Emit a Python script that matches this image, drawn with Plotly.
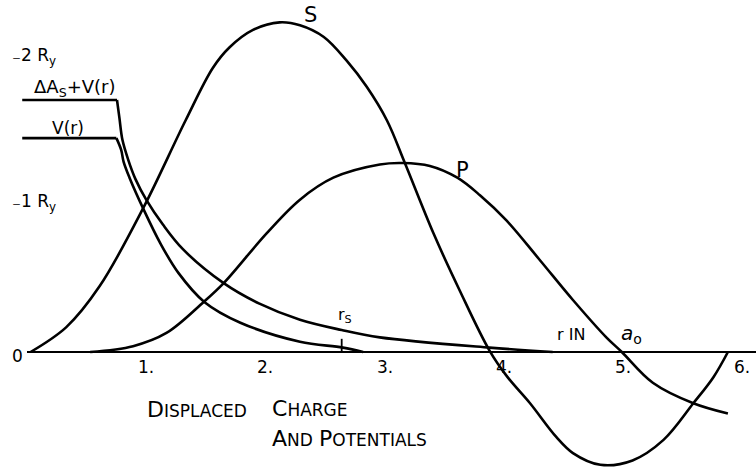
import plotly.graph_objects as go

# ---- data (r in units of a0, energies in Ry plotted upward as -E) ----
s_r = [0.03, 0.33, 0.61, 0.98, 1.33, 1.56, 1.70, 1.90, 2.12, 2.29, 2.49, 2.68,
       2.85, 3.02, 3.17, 3.41, 3.63, 3.88, 4.03, 4.22, 4.44, 4.58, 4.81, 5.08,
       5.34, 5.59, 5.76, 5.88]
s_v = [0.0, 0.17, 0.45, 0.99, 1.58, 1.94, 2.08, 2.20, 2.25, 2.23, 2.15, 1.99,
       1.81, 1.58, 1.29, 0.81, 0.42, 0.01, -0.17, -0.35, -0.58, -0.69, -0.77, -0.74,
       -0.60, -0.35, -0.17, 0.0]

p_r = [0.53, 0.89, 1.17, 1.48, 1.65, 2.01, 2.29, 2.57, 2.96, 3.15, 3.38, 3.61,
       3.80, 4.02, 4.30, 4.58, 4.86, 4.99, 5.25, 5.59, 5.88]
p_v = [0.0, 0.04, 0.13, 0.34, 0.47, 0.81, 1.04, 1.19, 1.28, 1.29, 1.27, 1.19,
       1.07, 0.90, 0.63, 0.355, 0.10, 0.0, -0.21, -0.35, -0.42]

# potential V(r): constant inside the core, then decaying
v_core_r = [-0.04, 0.75]
v_core_level = 1.46
v_r = [0.75, 0.79, 0.81, 0.86, 0.98, 1.12, 1.27, 1.49, 1.79, 2.29, 2.65, 2.82]
v_v = [1.46, 1.38, 1.30, 1.19, 0.97, 0.74, 0.54, 0.34, 0.20, 0.07, 0.03, 0.0]

# Delta A_s + V(r)
a_core_r = [-0.04, 0.755]
a_core_level = 1.72
a_r = [0.755, 0.775, 0.80, 0.85, 0.91, 1.00, 1.14, 1.31, 1.65, 1.95, 2.29, 2.64,
       2.96, 3.88, 4.41]
a_v = [1.72, 1.60, 1.45, 1.31, 1.18, 1.04, 0.87, 0.70, 0.47, 0.33, 0.22, 0.15,
       0.10, 0.03, 0.0]

axis_r = [0.0, 6.2]
r_s = 2.64
tick_vals = [1, 2, 3, 4, 5, 6]
tick_text = ["1.", "2.", "3.", "4.", "5.", "6."]
level_vals = [2, 1, 0]
level_text = ["₋2 R<sub>y</sub>", "₋1 R<sub>y</sub>", "0"]

W, H = 756, 470
X0, SX = 27.0, 119.2      # pixel of r=0 and pixels per a0
Y0, SY = 352.0, 146.5     # pixel of zero level and pixels per Ry

x_range = [-X0 / SX, (W - X0) / SX]
y_range = [-(H - Y0) / SY, Y0 / SY]

FONT = "DejaVu Sans"
INK = "black"
LW = 2.6


def paper(px, py):
    return px / W, 1 - py / H


fig = go.Figure()


def curve(x, y, shape="spline", width=LW):
    fig.add_trace(go.Scatter(x=x, y=y, mode="lines",
                             line=dict(color=INK, width=width, shape=shape,
                                       smoothing=1.0),
                             hoverinfo="skip", showlegend=False))


# baseline
curve(axis_r, [0, 0], shape="linear", width=2.0)
# charge densities
curve(s_r, s_v)
curve(p_r, p_v)
# potentials
curve(v_core_r, [v_core_level] * 2, shape="linear")
curve(v_r, v_v)
curve(a_core_r, [a_core_level] * 2, shape="linear")
curve(a_r, a_v)
# r_s marker
curve([r_s, r_s], [0, 0.09], shape="linear", width=1.8)


def label(text, x, y, size=17, xref="x", yref="y", xanchor="center"):
    fig.add_annotation(text=text, x=x, y=y, xref=xref, yref=yref,
                       xanchor=xanchor, yanchor="middle", showarrow=False,
                       font=dict(family=FONT, size=size, color=INK))


for v, t in zip(tick_vals, tick_text):
    label(t, v, -0.1, size=17)

for v, t in zip(level_vals, level_text):
    label(t, -0.14, v + 0.02 if v else -0.03, size=17, xanchor="left")

label("S", 2.38, 2.30, size=21)
label("P", 3.65, 1.24, size=21)
label("ΔA<sub>S</sub>+V(r)", 0.40, 1.80, size=18)
label("V(r)", 0.34, 1.53, size=17)
label("r<sub>S</sub>", 2.67, 0.25, size=16)
label("r IN", 4.56, 0.12, size=16)
label("<i>a</i><sub>o</sub>", 4.97, 0.12, size=20, xanchor="left")

big, small = 22, 17


def smallcaps(word):
    return f"{word[0]}<span style='font-size:{small}px'>{word[1:]}</span>"


for word, px, py in [("DISPLACED", 145, 409), ("CHARGE", 270, 408),
                     ("AND", 270, 438), ("POTENTIALS", 317, 438)]:
    x, y = paper(px, py)
    label(smallcaps(word), x, y, size=big, xref="paper", yref="paper",
          xanchor="left")

fig.update_layout(
    width=W, height=H,
    margin=dict(l=0, r=0, t=0, b=0),
    paper_bgcolor="white", plot_bgcolor="white",
    xaxis=dict(range=x_range, visible=False, fixedrange=True),
    yaxis=dict(range=y_range, visible=False, fixedrange=True),
)

fig.write_html("out.html")
